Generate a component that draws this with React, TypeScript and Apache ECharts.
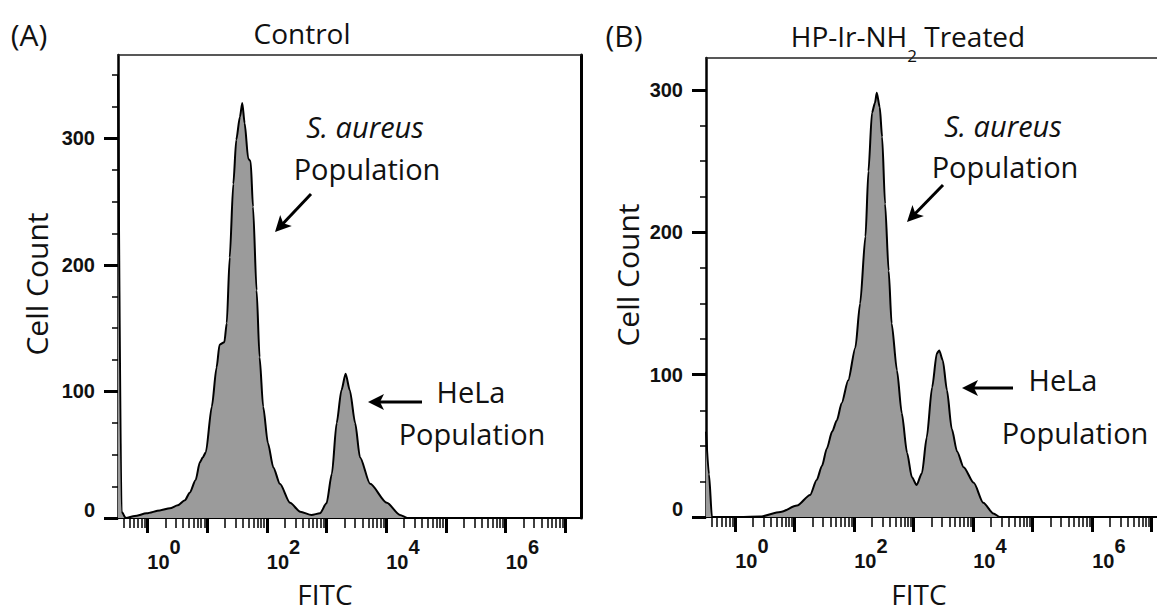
import React, { useEffect, useRef } from "react";
import * as echarts from "echarts";

// ---------- data (x = log10 FITC intensity, y = cell count) ----------
const fitcLogA = [-0.49, -0.43, -0.36, -0.21, -0.01, 0.21, 0.38, 0.51, 0.63, 0.71, 0.81, 0.88, 0.93, 0.98, 1.08, 1.16, 1.21, 1.29, 1.33, 1.38, 1.44, 1.49, 1.55, 1.59, 1.63, 1.69, 1.73, 1.77, 1.83, 1.88, 1.94, 2.02, 2.11, 2.22, 2.39, 2.56, 2.75, 2.89, 3.0, 3.09, 3.17, 3.25, 3.32, 3.39, 3.48, 3.56, 3.73, 4.01, 4.23, 4.35, 7.26];
const countA = [350, 5, 0, 1.5, 3.7, 6, 7.7, 10, 14, 20, 30, 44, 48, 52, 88, 119, 137, 139, 154, 206, 264, 299, 317, 328, 312, 284, 282, 246, 180, 127, 88, 59, 40, 27, 12, 5, 2.4, 3.7, 11.6, 35, 75, 101, 114, 101, 75, 48, 27, 12, 2.4, 0, 0];

const fitcLogB = [-0.49, -0.44, -0.39, 0.08, 0.42, 0.76, 1.04, 1.26, 1.37, 1.46, 1.54, 1.63, 1.71, 1.79, 1.9, 2.02, 2.1, 2.19, 2.24, 2.3, 2.35, 2.38, 2.43, 2.47, 2.52, 2.58, 2.63, 2.72, 2.8, 2.89, 2.97, 3.05, 3.14, 3.22, 3.31, 3.39, 3.43, 3.49, 3.56, 3.64, 3.73, 3.84, 4.01, 4.17, 4.34, 4.45, 7.09];
const countB = [60, 30, 0, 0, 0.3, 3.5, 8, 15.5, 26, 36, 48, 60, 68, 80, 96, 119, 150, 197, 243, 284, 291, 298, 288, 267, 220, 173, 136, 103, 73, 45, 28, 22.5, 31, 56, 91, 115, 117, 110, 89, 62, 46, 35, 24, 10, 2.5, 0, 0];

const xLabelExponents = [0, 2, 4, 6];
const majorDecades = [0, 1, 2, 3, 4, 5, 6, 7];
const yMajorTicks = [0, 100, 200, 300];
const yMinorTicksA = [25, 50, 75, 125, 150, 175, 225, 250, 275, 325, 350];
const yMinorTicksB = [25, 50, 75, 125, 150, 175, 225, 250, 275];

const panelTitles = ["Control", "HP-Ir-NH2 Treated"];
const panelLetters = ["(A)", "(B)"];

const X_MIN = -0.49;
const SANS = "'Open Sans', 'Noto Sans', sans-serif";
const TICKFONT = "'Liberation Sans', Arial, sans-serif";

function minorDecadeTicks(min: number, max: number) {
  const out: number[] = [];
  for (let d = -1; d <= 8; d++) {
    for (let m = 2; m <= 9; m++) {
      const v = d + Math.log10(m);
      if (v > min && v < max) out.push(v);
    }
  }
  return out;
}

function arrow(x1: number, y1: number, x2: number, y2: number) {
  const dx = x2 - x1, dy = y2 - y1;
  const L = Math.hypot(dx, dy);
  const ux = dx / L, uy = dy / L;
  const px = -uy, py = ux;
  const hl = 16, hw = 8, notch = 4;
  const bx = x2 - ux * hl, by = y2 - uy * hl;
  return [
    { type: "line", shape: { x1, y1, x2: x2 - ux * 8, y2: y2 - uy * 8 }, style: { stroke: "#000", lineWidth: 3 } },
    {
      type: "polygon",
      shape: {
        points: [
          [x2, y2],
          [bx + px * hw, by + py * hw],
          [x2 - ux * (hl - notch), y2 - uy * (hl - notch)],
          [bx - px * hw, by - py * hw],
        ],
      },
      style: { fill: "#000" },
    },
  ];
}

function text(t: string, x: number, y: number, extra: any = {}) {
  return {
    type: "text",
    x,
    y,
    ...extra.el,
    style: {
      text: t,
      fill: "#111",
      fontSize: 28,
      fontFamily: SANS,
      align: "center",
      verticalAlign: "middle",
      ...extra.style,
    },
  };
}

function buildOption() {
  const panels = [
    { grid: { left: 118, top: 55, right: 576, bottom: 95 }, xMax: 7.26, yMax: 366, minorY: yMinorTicksA, rightBorder: true, xs: fitcLogA, ys: countA },
    { grid: { left: 706, top: 58, right: 0, bottom: 96 }, xMax: 7.09, yMax: 322.5, minorY: yMinorTicksB, rightBorder: false, xs: fitcLogB, ys: countB },
  ];

  const grids: any[] = [];
  const xAxes: any[] = [];
  const yAxes: any[] = [];
  const series: any[] = [];

  panels.forEach((p, i) => {
    grids.push({ ...p.grid, show: false, containLabel: false });
    const minorX = minorDecadeTicks(X_MIN, p.xMax);
    const majorX = majorDecades.filter((d) => d > X_MIN && d < p.xMax);
    const base = { gridIndex: i, type: "value", min: X_MIN, max: p.xMax, splitLine: { show: false } };
    xAxes.push({
      ...base,
      position: "bottom",
      axisLine: { show: true, onZero: false, lineStyle: { color: "#000", width: 2 } },
      axisTick: { show: true, customValues: minorX, length: 10, lineStyle: { color: "#000", width: 1.5 } },
      axisLabel: { show: false },
    });
    xAxes.push({
      ...base,
      position: "bottom",
      axisLine: { show: false, onZero: false },
      axisTick: { show: true, customValues: majorX, length: 15, lineStyle: { color: "#000", width: 3 } },
      axisLabel: {
        show: true,
        customValues: xLabelExponents,
        align: "left",
        margin: 19,
        formatter: (v: number) => `{b|10}{s|${Math.round(v)}}`,
        rich: {
          b: { fontSize: 20, fontWeight: "bold", fontFamily: TICKFONT, color: "#111", padding: [15, 0, 0, 0] },
          s: { fontSize: 20, fontWeight: "bold", fontFamily: TICKFONT, color: "#111", padding: [0, 0, 15, 0] },
        },
      },
    });
    xAxes.push({
      ...base,
      position: "top",
      axisLine: { show: true, onZero: false, lineStyle: { color: "#222", width: 1.5 } },
      axisTick: { show: false },
      axisLabel: { show: false },
    });

    const ybase = { gridIndex: i, type: "value", min: 0, max: p.yMax, splitLine: { show: false } };
    yAxes.push({
      ...ybase,
      position: "left",
      axisLine: { show: true, onZero: false, lineStyle: { color: "#000", width: 2.5 } },
      axisTick: { show: true, customValues: p.minorY, length: 6, lineStyle: { color: "#000", width: 1.5 } },
      axisLabel: { show: false },
    });
    yAxes.push({
      ...ybase,
      position: "left",
      axisLine: { show: false, onZero: false },
      axisTick: { show: true, customValues: yMajorTicks, length: 14, lineStyle: { color: "#000", width: 3 } },
      axisLabel: {
        show: true,
        customValues: yMajorTicks,
        margin: 23,
        formatter: (v: number) => (v === 0 ? `{z|0}` : `{n|${v}}`),
        rich: {
          n: { fontSize: 20, fontWeight: "bold", fontFamily: TICKFONT, color: "#111" },
          z: { fontSize: 20, fontWeight: "bold", fontFamily: TICKFONT, color: "#111", padding: [0, 0, 16, 0] },
        },
      },
    });
    yAxes.push({
      ...ybase,
      position: "right",
      axisLine: { show: p.rightBorder, onZero: false, lineStyle: { color: "#000", width: 3 } },
      axisTick: { show: false },
      axisLabel: { show: false },
    });

    series.push({
      type: "line",
      xAxisIndex: i * 3,
      yAxisIndex: i * 3,
      data: p.xs.map((x, k) => [x, p.ys[k]]),
      symbol: "none",
      smooth: 0.25,
      smoothMonotone: "x",
      clip: true,
      lineStyle: { color: "#000", width: 2 },
      areaStyle: { color: "#9b9b9b", opacity: 1 },
      z: 1,
    });
  });

  const graphic: any[] = [
    text(panelLetters[0], 29, 34, { style: { fontSize: 30 } }),
    text(panelLetters[1], 624, 35, { style: { fontSize: 30 } }),
    text(panelTitles[0], 302, 33),
    {
      type: "text",
      x: 908,
      y: 36,
      style: {
        text: "{m|HP-Ir-NH}{s|2}{m| Treated}",
        align: "center",
        verticalAlign: "middle",
        rich: {
          m: { fontSize: 28, fontFamily: SANS, fill: "#111" },
          s: { fontSize: 17, fontFamily: SANS, fill: "#111", padding: [38, 0, 0, 0] },
        },
      },
    },
    text("Cell Count", 36, 284, { el: { rotation: Math.PI / 2 }, style: { fontSize: 30 } }),
    text("Cell Count", 627, 275, { el: { rotation: Math.PI / 2 }, style: { fontSize: 30 } }),
    text("FITC", 325, 594, { style: { fontSize: 28 } }),
    text("FITC", 919, 594, { style: { fontSize: 28 } }),
    // panel A annotations
    text("S. aureus", 365, 126, { style: { fontStyle: "italic", fontSize: 29 } }),
    text("Population", 367, 168, { style: { fontSize: 29 } }),
    ...arrow(311, 194, 275, 232),
    text("HeLa", 471, 391, { style: { fontSize: 29 } }),
    text("Population", 472, 433, { style: { fontSize: 29 } }),
    ...arrow(422, 402, 368, 402),
    // panel B annotations
    text("S. aureus", 1003, 125, { style: { fontStyle: "italic", fontSize: 29 } }),
    text("Population", 1005, 166, { style: { fontSize: 29 } }),
    ...arrow(943, 185, 907, 222),
    text("HeLa", 1063, 379, { style: { fontSize: 29 } }),
    text("Population", 1075, 432, { style: { fontSize: 29 } }),
    ...arrow(1013, 388, 962, 388),
  ];

  return {
    animation: false,
    backgroundColor: "#fff",
    grid: grids,
    xAxis: xAxes,
    yAxis: yAxes,
    series,
    graphic,
  };
}

export default function App() {
  const ref = useRef<HTMLDivElement>(null);
  useEffect(() => {
    document.body.style.margin = "0";
    const chart = echarts.init(ref.current!, null, { renderer: "svg" });
    chart.setOption(buildOption() as any);
    return () => chart.dispose();
  }, []);
  return <div ref={ref} style={{ width: 1157, height: 613 }} />;
}
